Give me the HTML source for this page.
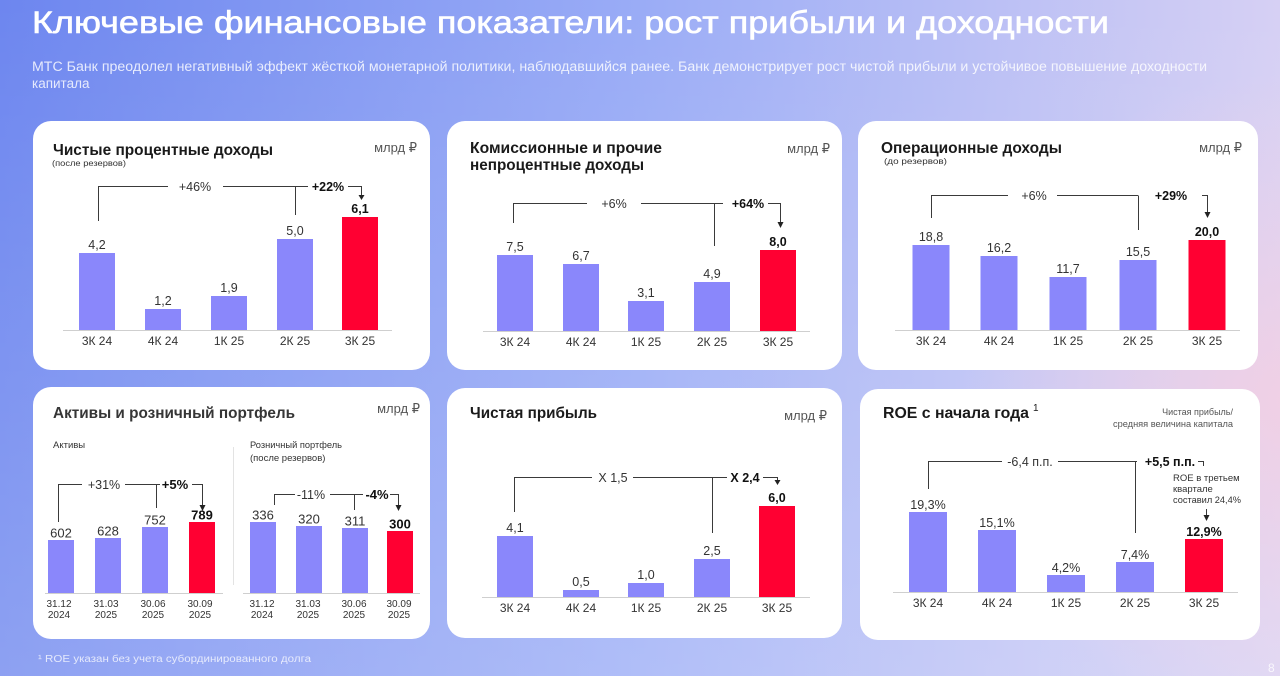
<!DOCTYPE html>
<html><head><meta charset="utf-8">
<style>
html,body{margin:0;padding:0;width:1280px;height:676px;overflow:hidden;}
svg{display:block}
text{font-family:"Liberation Sans","DejaVu Sans",sans-serif;}
.v{font-size:12.5px;fill:#333;text-anchor:middle}
.vb{font-size:12.5px;fill:#111;text-anchor:middle;font-weight:bold}
.c{font-size:12px;fill:#333;text-anchor:middle}
.d{font-size:10px;fill:#333;text-anchor:middle}
.ttl{font-size:15.5px;font-weight:bold;fill:#1a1a1a}
.u{font-size:13px;fill:#555;text-anchor:end}
.s{font-size:8.5px;fill:#333}
.ln{stroke:#3a3a3a;stroke-width:1;fill:none}
.ax{stroke:#cfcfcf;stroke-width:1}
.b{fill:#8a87fb}
.r{fill:#ff0032}
.ah{fill:#222}
</style></head>
<body>
<svg width="1280" height="676" viewBox="0 0 1280 676" xmlns="http://www.w3.org/2000/svg">
<defs>
<linearGradient id="bg" x1="0" y1="0" x2="1280" y2="0" gradientUnits="userSpaceOnUse">
<stop offset="0" stop-color="#6d86ef"/>
<stop offset="0.5" stop-color="#9aacf6"/>
<stop offset="1" stop-color="#d6d0f4"/>
</linearGradient>
<linearGradient id="vv" x1="0" y1="0" x2="0" y2="676" gradientUnits="userSpaceOnUse">
<stop offset="0" stop-color="#fff" stop-opacity="0"/>
<stop offset="1" stop-color="#fff" stop-opacity="0.22"/>
</linearGradient>
<radialGradient id="pk" cx="1290" cy="400" r="330" gradientUnits="userSpaceOnUse">
<stop offset="0" stop-color="#f4cfe2" stop-opacity="0.85"/>
<stop offset="1" stop-color="#f4cfe2" stop-opacity="0"/>
</radialGradient>
</defs>
<rect width="1280" height="676" fill="url(#bg)"/>
<rect width="1280" height="676" fill="url(#vv)"/>
<rect width="1280" height="676" fill="url(#pk)"/>

<!-- header -->
<text x="32" y="33" font-size="31.5" fill="#fff" stroke="#fff" stroke-width="0.6" textLength="1077" lengthAdjust="spacingAndGlyphs">Ключевые финансовые показатели: рост прибыли и доходности</text>
<text x="32" y="71" font-size="13.5" fill="#fff" fill-opacity="0.82" textLength="1175" lengthAdjust="spacingAndGlyphs">МТС Банк преодолел негативный эффект жёсткой монетарной политики, наблюдавшийся ранее. Банк демонстрирует рост чистой прибыли и устойчивое повышение доходности</text>
<text x="32" y="88" font-size="13.5" fill="#fff" fill-opacity="0.82">капитала</text>

<!-- cards -->
<rect x="33" y="121" width="397" height="249" rx="18" fill="#fff"/>
<rect x="447" y="121" width="395" height="249" rx="18" fill="#fff"/>
<rect x="858" y="121" width="400" height="249" rx="18" fill="#fff"/>
<rect x="33" y="387" width="397" height="252" rx="18" fill="#fff"/>
<rect x="447" y="388" width="395" height="250" rx="18" fill="#fff"/>
<rect x="860" y="389" width="400" height="251" rx="18" fill="#fff"/>

<!-- PANEL 1 -->
<text class="ttl" x="53" y="155" textLength="220" lengthAdjust="spacingAndGlyphs">Чистые процентные доходы</text>
<text class="s" x="52" y="166" textLength="74" lengthAdjust="spacingAndGlyphs">(после резервов)</text>
<text class="u" x="417" y="152">млрд ₽</text>
<line class="ax" x1="63" y1="330.5" x2="392" y2="330.5"/>
<rect class="b" x="79" y="253" width="36" height="77"/>
<rect class="b" x="145" y="309" width="36" height="21"/>
<rect class="b" x="211" y="296" width="36" height="34"/>
<rect class="b" x="277" y="239" width="36" height="91"/>
<rect class="r" x="342" y="217" width="36" height="113"/>
<text class="v" x="97" y="249">4,2</text>
<text class="v" x="163" y="305">1,2</text>
<text class="v" x="229" y="292">1,9</text>
<text class="v" x="295" y="235">5,0</text>
<text class="vb" x="360" y="213">6,1</text>
<text class="c" x="97" y="345">3К 24</text>
<text class="c" x="163" y="345">4К 24</text>
<text class="c" x="229" y="345">1К 25</text>
<text class="c" x="295" y="345">2К 25</text>
<text class="c" x="360" y="345">3К 25</text>
<path class="ln" d="M98.5 221 V186.5 H168 M223 186.5 H308 M295.5 186.5 V215 M348 186.5 H361.5 V196"/>
<polygon class="ah" points="358.5,195 364.5,195 361.5,200"/>
<text class="v" x="195" y="191">+46%</text>
<text class="vb" x="328" y="191">+22%</text>

<!-- PANEL 2 -->
<text class="ttl" x="470" y="153" textLength="192" lengthAdjust="spacingAndGlyphs">Комиссионные и прочие</text>
<text class="ttl" x="470" y="170" textLength="174" lengthAdjust="spacingAndGlyphs">непроцентные доходы</text>
<text class="u" x="830" y="153">млрд ₽</text>
<line class="ax" x1="483" y1="331.5" x2="810" y2="331.5"/>
<rect class="b" x="497" y="255" width="36" height="76"/>
<rect class="b" x="563" y="264" width="36" height="67"/>
<rect class="b" x="628" y="301" width="36" height="30"/>
<rect class="b" x="694" y="282" width="36" height="49"/>
<rect class="r" x="760" y="250" width="36" height="81"/>
<text class="v" x="515" y="251">7,5</text>
<text class="v" x="581" y="260">6,7</text>
<text class="v" x="646" y="297">3,1</text>
<text class="v" x="712" y="278">4,9</text>
<text class="vb" x="778" y="246">8,0</text>
<text class="c" x="515" y="346">3К 24</text>
<text class="c" x="581" y="346">4К 24</text>
<text class="c" x="646" y="346">1К 25</text>
<text class="c" x="712" y="346">2К 25</text>
<text class="c" x="778" y="346">3К 25</text>
<path class="ln" d="M513.5 223 V203.5 H587 M641 203.5 H723 M714.5 203.5 V246 M768 203.5 H780.5 V223"/>
<polygon class="ah" points="777.5,222 783.5,222 780.5,228"/>
<text class="v" x="614" y="208">+6%</text>
<text class="vb" x="748" y="208">+64%</text>

<!-- PANEL 3 -->
<text class="ttl" x="881" y="153" textLength="181" lengthAdjust="spacingAndGlyphs">Операционные доходы</text>
<text class="s" x="884" y="164" textLength="63" lengthAdjust="spacingAndGlyphs">(до резервов)</text>
<text class="u" x="1242" y="152">млрд ₽</text>
<line class="ax" x1="895" y1="330.5" x2="1240" y2="330.5"/>
<rect class="b" x="912.5" y="245" width="37" height="85"/>
<rect class="b" x="980.5" y="256" width="37" height="74"/>
<rect class="b" x="1049.5" y="277" width="37" height="53"/>
<rect class="b" x="1119.5" y="260" width="37" height="70"/>
<rect class="r" x="1188.5" y="240" width="37" height="90"/>
<text class="v" x="931" y="241">18,8</text>
<text class="v" x="999" y="252">16,2</text>
<text class="v" x="1068" y="273">11,7</text>
<text class="v" x="1138" y="256">15,5</text>
<text class="vb" x="1207" y="236">20,0</text>
<text class="c" x="931" y="345">3К 24</text>
<text class="c" x="999" y="345">4К 24</text>
<text class="c" x="1068" y="345">1К 25</text>
<text class="c" x="1138" y="345">2К 25</text>
<text class="c" x="1207" y="345">3К 25</text>
<path class="ln" d="M931.5 218 V195.5 H1008 M1057 195.5 H1138 M1138.5 195.5 V230 M1202 195.5 H1207.5 V213"/>
<polygon class="ah" points="1204.5,212 1210.5,212 1207.5,218"/>
<text class="v" x="1034" y="200">+6%</text>
<text class="vb" x="1171" y="200">+29%</text>

<!-- PANEL 4 -->
<text class="ttl" x="53" y="418" textLength="242" lengthAdjust="spacingAndGlyphs" style="fill:#363636">Активы и розничный портфель</text>
<text class="u" x="420" y="413">млрд ₽</text>
<text x="53" y="448" font-size="9.5" fill="#333">Активы</text>
<line x1="233.5" y1="447" x2="233.5" y2="585" stroke="#e3e3e3" stroke-width="1"/>
<text x="250" y="448" font-size="9.5" fill="#333" textLength="92" lengthAdjust="spacingAndGlyphs">Розничный портфель</text>
<text x="250" y="461" font-size="9.5" fill="#333">(после резервов)</text>
<line class="ax" x1="45" y1="593.5" x2="223" y2="593.5"/>
<line class="ax" x1="243" y1="593.5" x2="420" y2="593.5"/>
<rect class="b" x="48" y="540" width="26" height="53"/>
<rect class="b" x="95" y="538" width="26" height="55"/>
<rect class="b" x="142" y="527" width="26" height="66"/>
<rect class="r" x="189" y="522" width="26" height="71"/>
<text class="v" x="61" y="537.5" style="font-size:13px">602</text>
<text class="v" x="108" y="535.5" style="font-size:13px">628</text>
<text class="v" x="155" y="524.5" style="font-size:13px">752</text>
<text class="vb" x="202" y="519.5" style="font-size:13px">789</text>
<text class="d" x="59" y="607">31.12</text><text class="d" x="59" y="618">2024</text>
<text class="d" x="106" y="607">31.03</text><text class="d" x="106" y="618">2025</text>
<text class="d" x="153" y="607">30.06</text><text class="d" x="153" y="618">2025</text>
<text class="d" x="200" y="607">30.09</text><text class="d" x="200" y="618">2025</text>
<rect class="b" x="250" y="522" width="26" height="71"/>
<rect class="b" x="296" y="526" width="26" height="67"/>
<rect class="b" x="342" y="528" width="26" height="65"/>
<rect class="r" x="387" y="531" width="26" height="62"/>
<text class="v" x="263" y="519.5" style="font-size:13px">336</text>
<text class="v" x="309" y="523.5" style="font-size:13px">320</text>
<text class="v" x="355" y="525.5" style="font-size:13px">311</text>
<text class="vb" x="400" y="528.5" style="font-size:13px">300</text>
<text class="d" x="262" y="607">31.12</text><text class="d" x="262" y="618">2024</text>
<text class="d" x="308" y="607">31.03</text><text class="d" x="308" y="618">2025</text>
<text class="d" x="354" y="607">30.06</text><text class="d" x="354" y="618">2025</text>
<text class="d" x="399" y="607">30.09</text><text class="d" x="399" y="618">2025</text>
<path class="ln" d="M58.5 522 V484.5 H82 M125 484.5 H160 M156.5 484.5 V508 M192 484.5 H202.5 V506"/>
<polygon class="ah" points="199.5,505 205.5,505 202.5,511"/>
<text class="v" x="104" y="489">+31%</text>
<text class="vb" x="175" y="489" style="font-size:13px">+5%</text>
<path class="ln" d="M274.5 505 V494.5 H295 M330 494.5 H363 M354.5 494.5 V510 M390 494.5 H398.5 V506"/>
<polygon class="ah" points="395.5,505 401.5,505 398.5,511"/>
<text class="v" x="311" y="499">-11%</text>
<text class="vb" x="377" y="499" style="font-size:13px">-4%</text>

<!-- PANEL 5 -->
<text class="ttl" x="470" y="418" textLength="127" lengthAdjust="spacingAndGlyphs">Чистая прибыль</text>
<text class="u" x="827" y="420">млрд ₽</text>
<line class="ax" x1="482" y1="597.5" x2="810" y2="597.5"/>
<rect class="b" x="497" y="536" width="36" height="61"/>
<rect class="b" x="563" y="590" width="36" height="7"/>
<rect class="b" x="628" y="583" width="36" height="14"/>
<rect class="b" x="694" y="559" width="36" height="38"/>
<rect class="r" x="759" y="506" width="36" height="91"/>
<text class="v" x="515" y="532">4,1</text>
<text class="v" x="581" y="586">0,5</text>
<text class="v" x="646" y="579">1,0</text>
<text class="v" x="712" y="555">2,5</text>
<text class="vb" x="777" y="502">6,0</text>
<text class="c" x="515" y="612">3К 24</text>
<text class="c" x="581" y="612">4К 24</text>
<text class="c" x="646" y="612">1К 25</text>
<text class="c" x="712" y="612">2К 25</text>
<text class="c" x="777" y="612">3К 25</text>
<path class="ln" d="M514.5 512 V477.5 H592 M633 477.5 H727 M712.5 477.5 V533 M763 477.5 H777.5 V480"/>
<polygon class="ah" points="774.5,480 780.5,480 777.5,485"/>
<text class="v" x="613" y="482">X 1,5</text>
<text class="vb" x="745" y="482">X 2,4</text>

<!-- PANEL 6 -->
<text class="ttl" x="883" y="418" textLength="146" lengthAdjust="spacingAndGlyphs" style="font-size:16px">ROE с начала года</text>
<text x="1033" y="411" font-size="10" fill="#1a1a1a">1</text>
<text x="1233" y="415" font-size="9" fill="#555" text-anchor="end">Чистая прибыль/</text>
<text x="1233" y="427" font-size="9" fill="#555" text-anchor="end" textLength="120" lengthAdjust="spacingAndGlyphs">средняя величина капитала</text>
<line class="ax" x1="893" y1="592.5" x2="1238" y2="592.5"/>
<rect class="b" x="909" y="512" width="38" height="80"/>
<rect class="b" x="978" y="530" width="38" height="62"/>
<rect class="b" x="1047" y="575" width="38" height="17"/>
<rect class="b" x="1116" y="562" width="38" height="30"/>
<rect class="r" x="1185" y="539" width="38" height="53"/>
<text class="v" x="928" y="509">19,3%</text>
<text class="v" x="997" y="527">15,1%</text>
<text class="v" x="1066" y="572">4,2%</text>
<text class="v" x="1135" y="559">7,4%</text>
<text class="vb" x="1204" y="536">12,9%</text>
<text class="c" x="928" y="607">3К 24</text>
<text class="c" x="997" y="607">4К 24</text>
<text class="c" x="1066" y="607">1К 25</text>
<text class="c" x="1135" y="607">2К 25</text>
<text class="c" x="1204" y="607">3К 25</text>
<path class="ln" d="M928.5 489 V461.5 H1002 M1058 461.5 H1137 M1135.5 461.5 V533 M1198 461.5 H1203.5 V466"/>
<text class="v" x="1030" y="466">-6,4 п.п.</text>
<text class="vb" x="1170" y="466">+5,5 п.п.</text>
<text x="1173" y="481" font-size="9.5" fill="#333">ROE в третьем</text>
<text x="1173" y="492" font-size="9.5" fill="#333">квартале</text>
<text x="1173" y="503" font-size="9.5" fill="#333" textLength="68" lengthAdjust="spacingAndGlyphs">составил 24,4%</text>
<path class="ln" d="M1206.5 509 V516"/>
<polygon class="ah" points="1203.5,515 1209.5,515 1206.5,521"/>

<!-- footer -->
<text x="38" y="662" font-size="10" fill="#fff" fill-opacity="0.75" textLength="273" lengthAdjust="spacingAndGlyphs">¹ ROE указан без учета субординированного долга</text>
<text x="1268" y="672" font-size="12" fill="#fff" fill-opacity="0.8">8</text>
</svg>
</body></html>
